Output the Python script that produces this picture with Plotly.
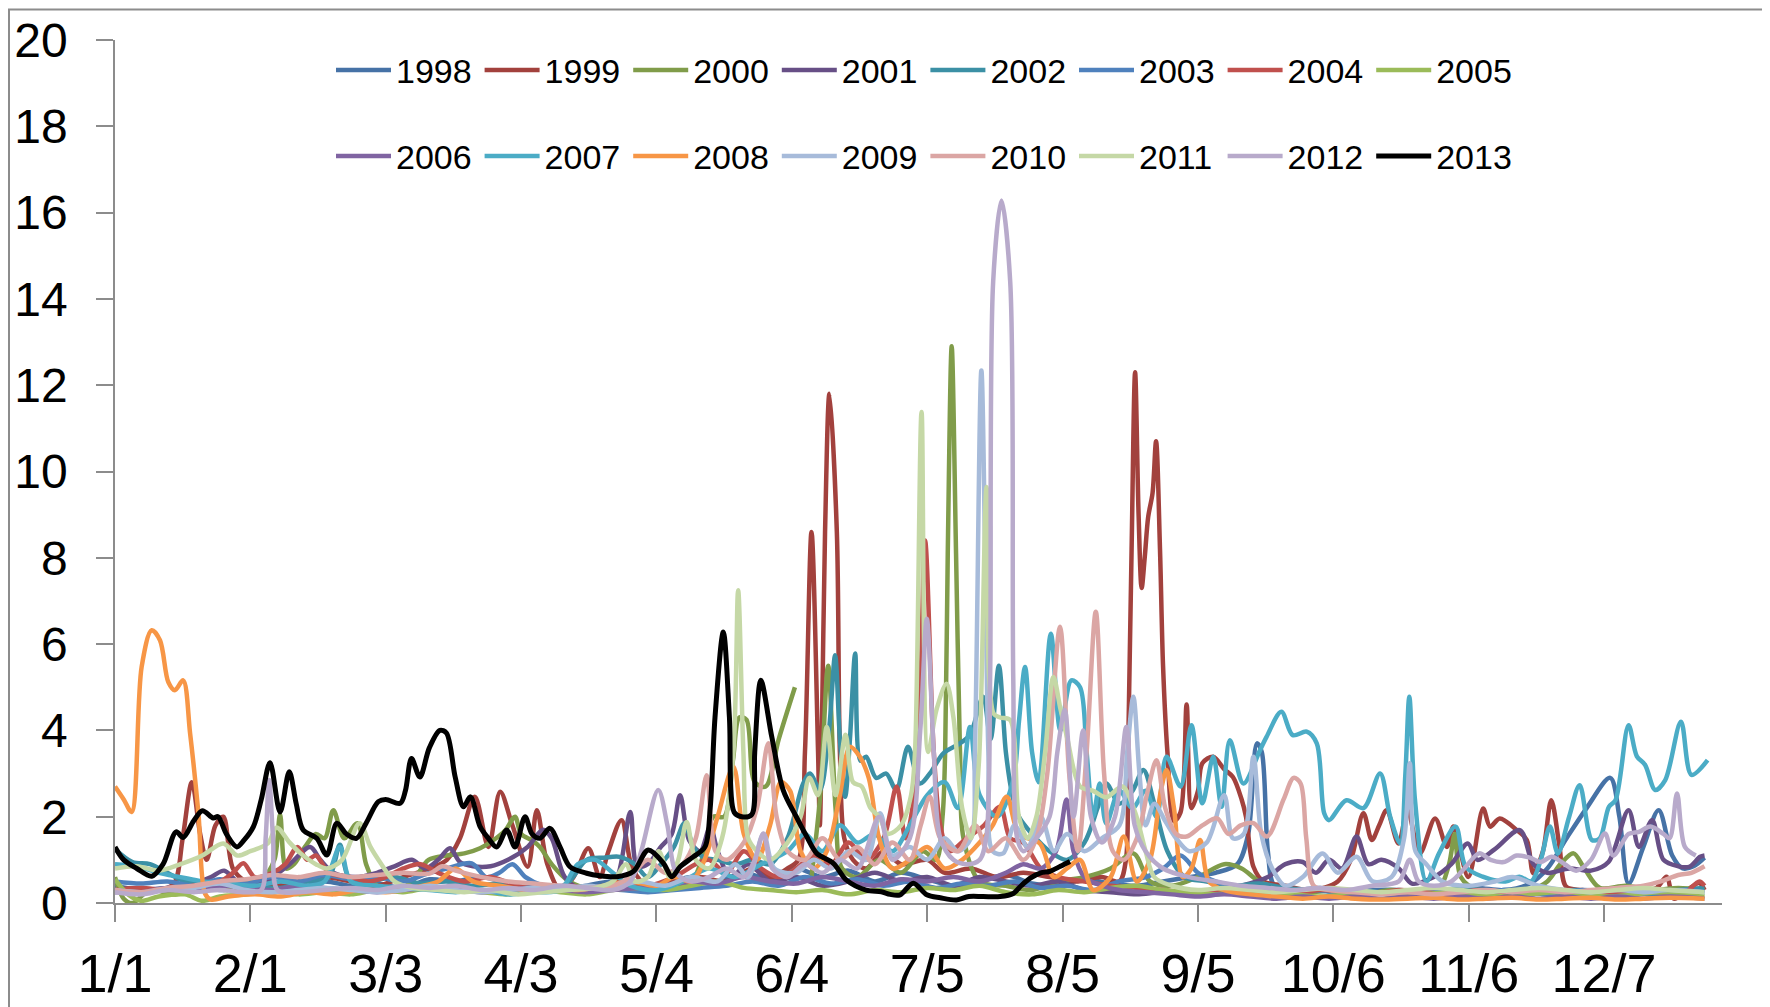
import plotly.graph_objects as go

# ---------------- data: (day index from 1 Jan, value) ----------------
TICK_DAYS = [0, 31, 62, 93, 124, 155, 186, 217, 248, 279, 310, 341]
TICK_LABELS = ["1/1", "2/1", "3/3", "4/3", "5/4", "6/4", "7/5", "8/5", "9/5", "10/6", "11/6", "12/7"]
YEARS = ["1998", "1999", "2000", "2001", "2002", "2003", "2004", "2005",
         "2006", "2007", "2008", "2009", "2010", "2011", "2012", "2013"]

P1998 = [(0,0.4),(6,0.3),(12,0.35),(18,0.45),(24,0.3),(30,0.4),(36,0.5),(42,0.35),(48,0.5),(54,0.4),(60,0.45),(66,0.35),(72,0.55),(78,0.5),(84,0.6),(90,0.45),(96,0.35),(102,0.3),(108,0.4),(114,0.5),(120,0.35),(126,0.45),(132,0.6),(138,0.5),(144,0.7),(150,0.55),(156,0.8),(162,0.6),(168,0.75),(174,0.5),(180,0.7),(186,0.55),(192,0.4),(198,0.5),(204,0.65),(210,0.45),(216,0.4),(222,0.55),(228,0.45),(234,0.4),(240,0.5),(246,0.6),(252,0.7),(257,0.9),(259.5,1.6),(261.5,3.7),(262.6,3.5),(264,1.2),(265.5,0.4),(270,0.3),(276,0.35),(282,0.25),(288,0.3),(294,0.3),(300,0.25),(306,0.3),(312,0.35),(318,0.3),(324,0.45),(328,0.8),(332.4,1.5),(337,2.2),(342.4,2.9),(344.5,2.0),(346.6,0.45),(350,1.3),(353.5,2.15),(356.6,1.1),(359,0.8),(361.5,0.85),(364,1.05)]
P1999 = [(0,0.3),(5,0.35),(10,0.3),(13.5,0.45),(15.5,1.5),(17.6,2.8),(19.5,1.6),(21,1.0),(23,1.8),(24.8,2.0),(27,0.8),(30,0.5),(36,0.4),(42,0.5),(48,0.6),(54,0.5),(60,0.4),(66,0.6),(72,0.8),(76,1.0),(79,1.5),(82.4,2.46),(85.5,1.3),(88.2,2.58),(91,1.8),(94.5,0.84),(96.6,2.15),(99,0.9),(102,0.3),(105,0.6),(108.4,1.27),(111,0.6),(113,1.2),(116,1.92),(118.5,0.8),(122,0.4),(128,0.5),(134,0.6),(140,0.5),(146,0.8),(150,0.6),(154,0.8),(156.5,1.0),(158,3.5),(159.5,8.6),(161,3.5),(161.4,1.8),(161.8,3.5),(162.6,8.6),(163.6,11.8),(165.3,8.6),(166,3.5),(167,1.5),(169,1.0),(172,0.8),(176,1.2),(180,0.9),(186,1.0),(190,0.7),(196,0.8),(202,0.6),(208,0.7),(214,0.6),(220,0.5),(226,0.6),(230,0.5),(231.5,1.0),(232.0,3.5),(232.8,8.2),(233.6,12.3),(234.4,9.0),(235.1,7.3),(235.8,8.0),(236.6,8.95),(237.6,9.5),(238.4,10.7),(239.3,8.2),(240.0,5.5),(241,3.5),(242.5,1.9),(244,2.1),(245.4,4.6),(246.5,2.2),(248,2.6),(249,3.24),(251.5,3.39),(254,3.1),(256,2.92),(258,2.4),(259,2.0),(260.7,0.84),(263,0.5),(268,0.4),(274,0.3),(280,0.5),(283,1.0),(285.9,2.08),(287.8,1.46),(289.5,1.8),(291.2,2.15),(293.9,1.38),(296,2.15),(298.8,1.15),(302.3,1.96),(305,1.3),(306.5,1.77),(309.9,0.6),(313.3,2.19),(314.9,1.77),(317.1,1.96),(321,1.69),(323.3,1.46),(324.8,0.69),(327,1.2),(328.9,2.38),(330.8,1.3),(332.3,0.38),(336,0.3),(342,0.25),(348,0.3),(353,0.35),(355.3,0.61),(357,0.1),(360,0.3),(362.8,0.46),(364,0.3)]
P2000 = [(0,0.6),(2,0.1),(4,0.0),(8,0.3),(14,0.2),(20,0.4),(26,0.3),(30,0.5),(34,0.6),(36.5,1.0),(37.8,2.05),(39.2,0.8),(41,0.9),(43.5,1.3),(46,1.6),(48,1.5),(50,2.15),(52.5,1.5),(55.5,1.85),(57.5,0.9),(60,0.4),(64,0.3),(68,0.5),(71.8,1.0),(76,1.1),(80,1.15),(83.6,1.27),(86.7,1.46),(89.5,1.7),(91.6,2.0),(93,1.6),(95.5,1.45),(97.3,1.3),(100,0.9),(104,0.5),(110,0.3),(116,0.35),(122,0.3),(128,0.4),(132,0.5),(135,1.2),(137,2.0),(139.5,2.0),(141.5,3.3),(143,4.3),(144.6,4.25),(146.5,2.8),(149,2.7),(152,3.8),(155.7,5.0),(156.2,None),(159.5,0.6),(161.5,2.5),(163.3,5.5),(165,2.2),(166.5,0.8),(170,0.6),(175,1.0),(180,0.7),(185,1.2),(188,1.0),(189.5,2.0),(190.1,3.5),(190.7,8.1),(191.6,12.9),(192.6,8.1),(193.5,3.5),(194.3,1.5),(198,0.5),(204,0.4),(210,0.3),(216,0.5),(222,0.6),(228,0.8),(233.2,1.15),(237,0.5),(242,0.4),(248,0.6),(254,0.9),(258,0.8),(262,0.5),(268,0.3),(274,0.25),(280,0.3),(286,0.2),(292,0.3),(298,0.25),(303,0.3),(305.5,0.9),(306.8,1.6),(308.2,0.6),(312,0.3),(318,0.25),(324,0.3),(328,0.5),(331,0.9),(334,1.15),(336.5,0.8),(340,0.35),(346,0.4),(352,0.3),(358,0.35),(364,0.3)]
P2001 = [(0,0.25),(6,0.3),(12,0.35),(18,0.45),(22,0.6),(25,0.75),(28,0.5),(32,0.4),(36,0.6),(40,0.9),(44.7,1.3),(47,1.0),(50,0.7),(55,0.6),(60,0.7),(64,0.85),(68,1.0),(71,0.8),(74,1.0),(76.7,1.27),(79,0.95),(82,0.85),(86,0.85),(90,1.0),(94.5,1.3),(98,1.7),(100,1.5),(103,0.6),(107,0.3),(112,0.3),(115,0.6),(118,2.11),(119.6,0.85),(122,0.9),(125,1.3),(127.5,1.6),(129.4,2.5),(131.5,1.45),(134,1.2),(136.3,1.77),(138,1.2),(141,0.6),(145,0.9),(150,0.5),(156,0.6),(162,0.4),(168,0.5),(174,0.7),(180,0.5),(186,0.6),(192,0.4),(198,0.6),(204,0.5),(210,0.4),(216,0.5),(222,0.3),(228,0.25),(234,0.2),(240,0.25),(246,0.2),(252,0.3),(258,0.4),(264,0.6),(268,0.9),(272,0.95),(275,0.7),(278,1.0),(281,0.8),(284.3,1.54),(287,0.9),(290,1.0),(294,0.8),(297,0.45),(302,0.6),(306,0.9),(309.8,1.38),(312,1.0),(316,1.25),(321.7,1.69),(324.8,0.9),(328,0.7),(333,0.8),(338,0.75),(342,0.95),(346.6,2.15),(349,1.3),(352,1.92),(354.6,1.0),(358,0.85),(360.5,0.84),(363,1.07),(364,1.1)]
P2002 = [(0,1.25),(4,0.95),(8,0.9),(12,0.7),(16,0.5),(20,0.45),(26,0.5),(32,0.4),(38,0.35),(44,0.5),(49,0.6),(51.5,1.35),(53.5,0.6),(58,0.5),(64,0.6),(70,0.45),(76,0.5),(82,0.4),(88,0.45),(94,0.35),(100,0.3),(104,0.5),(108,1.0),(112,1.05),(115.6,1.07),(119,0.9),(122,0.6),(125,0.9),(128,1.3),(130.4,1.85),(132.5,1.3),(135,1.05),(138,1.0),(142,0.9),(146,1.0),(150,0.9),(154,1.5),(157.6,2.77),(159.2,3.0),(161.4,2.62),(163.5,4.0),(164.9,5.74),(166,3.8),(167.2,2.46),(168.3,3.8),(169.5,5.78),(170.7,3.3),(172,3.39),(174.3,2.9),(176.6,3.0),(178.9,2.62),(181.6,3.62),(184.3,2.77),(186.6,3.0),(189.7,3.47),(193.5,3.7),(195.8,3.9),(198.8,4.78),(200.5,3.8),(202.4,5.5),(204,3.5),(205.5,2.5),(207,2.0),(210,1.6),(214,1.2),(218,1.0),(222,1.4),(225,2.2),(227,2.77),(230,2.3),(233,2.6),(235.5,3.08),(238,2.3),(241,1.2),(245,0.6),(250,0.5),(256,0.4),(262,0.45),(268,0.35),(274,0.3),(280,0.25),(286,0.3),(292,0.2),(298,0.25),(304,0.3),(310,0.35),(316,0.25),(322,0.3),(328,0.2),(334,0.3),(340,0.25),(346,0.3),(352,0.2),(358,0.3),(364,0.35)]
P2003 = [(0,0.5),(6,0.45),(12,0.5),(18,0.4),(24,0.55),(30,0.45),(36,0.6),(42,0.5),(48,0.65),(54,0.55),(60,0.6),(66,0.5),(72,0.7),(76,0.8),(81.7,0.92),(85,0.6),(88,0.7),(91,0.9),(94,0.6),(98,0.4),(104,0.3),(110,0.35),(116,0.3),(122,0.25),(128,0.3),(134,0.35),(140,0.4),(146,0.5),(152,0.4),(158,0.6),(164,0.45),(170,0.55),(176,0.4),(182,0.5),(188,0.35),(194,0.45),(200,0.4),(206,0.5),(212,0.35),(218,0.4),(224,0.3),(230,0.5),(236,0.6),(240,0.8),(244,1.1),(248,0.7),(252,0.5),(258,0.35),(264,0.3),(270,0.25),(276,0.3),(282,0.2),(288,0.25),(294,0.2),(300,0.3),(306,0.25),(312,0.2),(318,0.3),(324,0.25),(330,0.2),(336,0.3),(342,0.25),(348,0.2),(354,0.25),(360,0.3),(364,0.25)]
P2004 = [(0,0.3),(6,0.35),(12,0.3),(18,0.4),(24,0.5),(27,0.7),(29.4,0.92),(32,0.6),(36,0.7),(39,0.9),(41.8,1.3),(44,1.0),(46,1.1),(49,0.7),(54,0.6),(58,0.5),(62,0.6),(66,0.8),(70,0.9),(74,0.7),(80,0.5),(86,0.6),(92,0.4),(98,0.3),(104,0.4),(110,0.3),(116,0.5),(122,0.4),(128,0.6),(133,0.9),(136,1.0),(140,0.7),(144,1.2),(148,0.8),(152,0.6),(156,0.8),(160,1.1),(164,0.9),(168,1.4),(172,1.0),(176,1.5),(179,2.7),(181,1.5),(183.6,3.0),(185.5,8.4),(187.5,3.5),(189,1.8),(191,1.2),(195,1.5),(199,1.8),(202.7,2.23),(205,1.5),(208,1.4),(212,0.8),(216,0.6),(222,0.5),(228,0.4),(234,0.35),(240,0.3),(246,0.25),(252,0.3),(258,0.2),(264,0.25),(270,0.2),(276,0.3),(282,0.25),(288,0.2),(294,0.3),(300,0.25),(306,0.2),(312,0.3),(318,0.25),(324,0.2),(330,0.3),(336,0.25),(342,0.2),(348,0.3),(354,0.25),(359,0.2),(362.8,0.5),(364,0.4)]
P2005 = [(0,0.55),(3,0.2),(6,0.05),(10,0.15),(16,0.2),(20,0.05),(24,0.15),(30,0.2),(36,0.3),(42,0.2),(48,0.25),(54,0.2),(60,0.3),(66,0.25),(72,0.35),(78,0.3),(84,0.25),(90,0.2),(96,0.3),(102,0.25),(108,0.2),(114,0.3),(120,0.35),(126,0.3),(132,0.4),(138,0.5),(144,0.35),(150,0.3),(156,0.25),(162,0.3),(168,0.2),(174,0.3),(180,0.25),(186,0.35),(192,0.3),(198,0.4),(204,0.25),(210,0.2),(216,0.3),(222,0.25),(228,0.35),(234,0.4),(240,0.3),(246,0.25),(252,0.2),(258,0.3),(264,0.25),(270,0.2),(276,0.15),(282,0.2),(288,0.25),(294,0.15),(300,0.2),(306,0.25),(312,0.2),(318,0.15),(324,0.2),(330,0.25),(336,0.2),(342,0.15),(348,0.2),(354,0.25),(360,0.2),(364,0.15)]
P2006 = [(0,0.3),(6,0.25),(12,0.35),(18,0.3),(24,0.4),(30,0.35),(36,0.3),(42,0.4),(48,0.35),(54,0.3),(60,0.25),(66,0.3),(72,0.35),(78,0.3),(84,0.25),(90,0.3),(96,0.35),(102,0.3),(108,0.25),(114,0.3),(120,0.35),(126,0.4),(132,0.5),(138,0.45),(144,0.6),(150,0.5),(156,0.45),(162,0.6),(168,0.5),(174,0.4),(180,0.55),(186,0.5),(192,0.6),(198,0.5),(204,0.7),(208,0.9),(212,0.8),(215.5,1.2),(217.9,2.4),(219.5,1.2),(222,0.6),(226,0.4),(230,0.3),(236,0.25),(242,0.2),(248,0.15),(254,0.2),(260,0.15),(266,0.1),(272,0.15),(278,0.1),(284,0.15),(290,0.1),(296,0.15),(302,0.1),(308,0.15),(314,0.1),(320,0.15),(326,0.1),(332,0.15),(338,0.1),(344,0.15),(350,0.1),(356,0.15),(364,0.1)]
P2007 = [(0,0.9),(5,0.85),(10,0.7),(15,0.6),(20,0.5),(26,0.45),(32,0.4),(38,0.5),(44,0.4),(48,0.5),(51.5,1.3),(54,0.5),(60,0.4),(66,0.35),(72,0.3),(78,0.25),(84,0.3),(90,0.2),(96,0.25),(102,0.3),(106,0.9),(110,1.0),(114,0.7),(118,0.4),(124,0.3),(130,0.5),(136,0.8),(142,0.6),(148,0.9),(154,1.2),(158,1.6),(162,1.2),(166,1.8),(170,1.4),(174,1.6),(178,1.2),(182,1.8),(186,2.5),(190,2.8),(193,2.2),(195.8,4.08),(198,2.5),(202,2.0),(205.7,2.85),(207,4.2),(208.4,5.47),(210,3.5),(211.5,2.8),(214.3,6.24),(216.5,4.0),(219,5.16),(221,5.0),(222.5,3.5),(224,2.0),(225.5,2.77),(227,1.84),(230,2.6),(233,2.2),(236,2.6),(238.5,2.0),(240.8,3.39),(244,2.7),(246.5,4.12),(249,2.31),(251.5,3.39),(253.4,2.23),(255.3,3.77),(258.4,2.77),(262.2,3.54),(263.7,3.85),(267.1,4.43),(269.7,3.89),(272.9,3.97),(275.2,3.7),(276.9,2.08),(278,1.92),(282,2.38),(285.9,2.2),(289.7,3.0),(292,2.0),(294.3,1.38),(295.5,3.0),(296.4,4.78),(297.7,2.38),(300.3,0.5),(303.2,1.15),(307,1.77),(309.3,0.84),(313.2,0.61),(318.4,0.5),(321.6,0.61),(324.3,0.5),(326.5,1.0),(328.6,1.77),(330.4,1.15),(333,2.0),(335.4,2.73),(338.2,1.46),(340,1.5),(342.1,2.23),(343.6,2.38),(346.6,4.12),(348.5,3.4),(350.4,3.2),(352.7,2.62),(355,2.85),(358.6,4.2),(361,2.97),(364.7,3.31)]
P2008 = [(0,2.7),(2,2.4),(3.8,2.11),(6.1,5.47),(8.4,6.32),(10.3,6.09),(12.2,5.12),(13.7,4.93),(15.6,5.16),(17.2,3.93),(19.1,2.08),(20.6,0.22),(22,0.08),(26,0.15),(32,0.2),(38,0.15),(44,0.25),(50,0.2),(56,0.3),(62,0.25),(68,0.35),(74,0.5),(78,0.8),(82,0.5),(88,0.4),(94,0.3),(100,0.35),(106,0.3),(112,0.4),(118,0.5),(124,0.4),(128,0.6),(132,0.5),(135,1.0),(138,2.0),(141.6,3.16),(144,1.6),(147,1.0),(150,1.8),(152.5,2.8),(154.6,2.6),(157,1.2),(160,0.8),(163,1.2),(166,2.5),(168.3,3.62),(170.5,3.4),(172.6,2.9),(175,1.5),(178,0.8),(182,1.0),(186,1.3),(190,0.8),(194,1.0),(198,1.4),(201,1.8),(204.2,2.46),(207,1.6),(211.8,1.38),(215,0.6),(218,0.8),(221,1.0),(224,0.3),(228,0.6),(231,1.54),(234,0.5),(237,1.0),(239.5,2.6),(240.8,3.08),(242.5,2.2),(244.5,0.6),(246.5,0.8),(248.5,1.46),(250.5,0.5),(254,0.3),(260,0.2),(266,0.15),(272,0.1),(278,0.15),(284,0.1),(290,0.08),(296,0.1),(302,0.12),(308,0.08),(314,0.1),(320,0.12),(326,0.08),(332,0.1),(338,0.12),(344,0.08),(350,0.1),(356,0.12),(364,0.1)]
P2009 = [(0,0.3),(6,0.25),(12,0.3),(18,0.35),(24,0.45),(30,0.3),(36,0.25),(42,0.3),(48,0.35),(54,0.3),(60,0.25),(66,0.3),(72,0.4),(78,0.3),(84,0.25),(90,0.3),(96,0.35),(102,0.3),(108,0.4),(114,0.35),(120,0.5),(126,0.4),(132,0.6),(138,0.5),(142,0.9),(145,0.6),(148.5,1.6),(151,0.8),(156,0.7),(160,1.0),(164,0.8),(168,1.2),(172,1.0),(175.2,2.08),(178,1.1),(182,1.3),(186,1.0),(190,1.5),(193,1.2),(196,1.5),(196.9,3.5),(198.4,12.34),(200,3.5),(201,1.2),(203.4,1.15),(206,1.8),(209,1.3),(212,2.0),(215,1.2),(218,1.6),(222,1.2),(226,1.5),(230,1.8),(231.8,3.5),(233.2,4.78),(234.6,3.0),(236,1.8),(238,2.3),(240.5,1.9),(243,1.5),(246,1.2),(250,1.4),(254,2.5),(256,1.5),(258.5,1.6),(260.7,3.39),(262.5,1.6),(265,0.8),(268,0.4),(272,0.6),(276.5,1.15),(280,0.7),(284.3,1.07),(288,0.5),(292.3,0.6),(295.2,1.5),(296.5,3.24),(297.8,1.2),(300.3,0.9),(304,0.5),(310,0.4),(316,0.5),(320,0.6),(326,0.4),(332,0.3),(338,0.25),(344,0.3),(350,0.25),(356,0.3),(364,0.25)]
P2010 = [(0,0.3),(6,0.25),(12,0.35),(18,0.4),(24,0.5),(30,0.55),(36,0.65),(42,0.6),(48,0.7),(54,0.6),(60,0.65),(66,0.7),(72,0.68),(75,0.85),(78,0.75),(84,0.6),(90,0.5),(96,0.45),(102,0.4),(108,0.35),(114,0.4),(118,0.6),(122,1.0),(126,0.7),(130,0.9),(133,1.5),(135.5,2.96),(137.5,1.2),(140,1.0),(144,1.4),(147,2.2),(149.6,3.7),(151.5,2.0),(154,1.2),(158,1.0),(162,1.5),(166,1.0),(170,1.3),(174,0.9),(178,1.4),(182,1.0),(184.5,1.8),(186.6,2.46),(189,1.5),(193,1.2),(197,1.8),(200,1.2),(204,1.5),(208,1.0),(211,1.5),(213.5,3.0),(216.4,6.4),(218.5,3.0),(220.5,1.2),(222.5,3.5),(224.6,6.75),(226.5,3.0),(228.5,1.2),(231,1.0),(234,1.5),(236.5,2.6),(238.5,3.31),(240.5,2.2),(243,1.6),(245.4,1.54),(249,1.8),(252.4,1.96),(255,1.6),(257.8,1.8),(260.7,1.85),(263.8,1.54),(267.6,2.4),(269.9,2.9),(271.5,2.77),(272.8,1.5),(274.5,0.4),(278,0.3),(284,0.25),(290,0.2),(296,0.25),(302,0.2),(308,0.25),(314,0.3),(320,0.25),(326,0.3),(332,0.25),(338,0.3),(344,0.35),(350,0.4),(354,0.5),(358,0.65),(361,0.7),(364,0.85)]
P2011 = [(0,0.8),(5,0.85),(10,0.75),(15,0.9),(20,1.1),(24.8,1.38),(28,1.1),(31,1.2),(35,1.38),(37,1.75),(40,1.4),(42.5,1.15),(46,0.9),(48.5,0.8),(52,1.0),(56,1.85),(58.5,1.3),(61,0.9),(64,0.5),(68,0.35),(74,0.3),(80,0.25),(86,0.3),(92,0.2),(98,0.25),(104,0.3),(110,0.35),(114,0.5),(117,0.9),(119,0.5),(122,0.6),(124.5,1.2),(127,0.6),(129,1.0),(130.9,1.88),(133,1.0),(136,0.8),(139,1.5),(141.6,3.5),(142.7,7.25),(143.9,3.5),(145,1.5),(147,1.2),(150,1.0),(154,1.4),(157,2.0),(159,2.9),(161,2.5),(163,4.08),(165,2.5),(167.3,3.9),(169,2.8),(171,2.7),(173,2.2),(175,2.0),(177,1.6),(180,1.8),(182.3,2.5),(183.2,3.5),(184.7,11.38),(186.2,3.5),(188.1,4.47),(190.4,5.08),(192,4.3),(194,2.2),(196,1.5),(197.8,3.2),(199.6,9.64),(201.2,4.39),(202.7,4.3),(205,4.24),(207,2.0),(209,1.5),(211,2.0),(213,3.5),(214.9,5.24),(216.5,4.5),(218,3.85),(221,2.7),(224,2.6),(227,2.45),(230.7,2.7),(233.6,2.1),(236,1.2),(238,0.6),(242,0.4),(248,0.3),(254,0.35),(260,0.3),(266,0.25),(272,0.3),(278,0.35),(284,0.3),(290,0.25),(296,0.3),(302,0.35),(308,0.3),(314,0.25),(320,0.3),(326,0.35),(332,0.3),(338,0.25),(344,0.3),(350,0.35),(356,0.3),(364,0.25)]
P2012 = [(0,0.25),(6,0.2),(12,0.3),(18,0.25),(24,0.3),(30,0.25),(33.5,0.3),(34.5,1.5),(35.3,2.85),(36.2,1.5),(37.2,0.3),(42,0.25),(48,0.3),(54,0.35),(60,0.3),(66,0.4),(72,0.35),(78,0.4),(84,0.3),(90,0.35),(96,0.3),(102,0.4),(108,0.35),(114,0.3),(118,0.5),(120.5,1.2),(124.4,2.62),(126.5,1.8),(128.5,0.7),(132,0.5),(136,0.6),(140,0.8),(144,0.6),(146.5,1.0),(148.5,1.61),(150.5,0.8),(154,0.6),(158,0.9),(162,0.7),(166,1.0),(170,0.8),(175,2.0),(178,1.0),(182,1.5),(184.4,4.0),(185.9,6.59),(187.5,3.5),(189,1.5),(192,1.0),(195,0.9),(198,1.0),(199.5,1.5),(200.4,5.2),(201.1,14.4),(203,16.28),(205,14.4),(205.7,5.2),(206.6,1.5),(208,1.2),(211,1.5),(214,2.0),(215.8,3.5),(217.5,4.47),(219.5,2.0),(221.7,4.0),(223.5,2.0),(226,1.4),(229,2.0),(231.6,4.08),(233.5,1.8),(236,1.2),(240,0.8),(246,0.6),(252,0.5),(258,0.4),(264,0.35),(270,0.3),(276,0.35),(282,0.3),(288,0.4),(294,0.5),(296.5,1.0),(298.5,0.5),(302,0.4),(306,0.5),(309,0.8),(312.4,1.15),(315,1.0),(318,0.95),(321,1.1),(324,1.05),(326.5,0.95),(329,1.07),(332,0.9),(334.6,0.75),(338,1.0),(341.2,1.61),(343.1,1.1),(346.6,1.6),(349,1.65),(351.6,1.77),(354.6,1.6),(356,1.5),(357.7,2.54),(359.5,1.3),(362,1.1)]
P2013 = [(0,1.3),(2,1.0),(5,0.8),(8.4,0.62),(11,0.9),(14,1.65),(15.6,1.52),(18,1.9),(20,2.14),(22.5,1.97),(23.6,2.0),(25.5,1.6),(27.9,1.3),(29.5,1.45),(31.7,1.77),(33.5,2.4),(35.5,3.25),(37.8,2.11),(39.9,3.04),(41.5,2.3),(43.1,1.69),(46.2,1.5),(48.5,1.11),(50.8,1.85),(53,1.6),(55.3,1.5),(57.5,1.85),(60.3,2.35),(62,2.4),(65.3,2.31),(66.5,2.6),(67.9,3.35),(69.8,2.92),(72,3.6),(74.4,4.0),(75.9,3.94),(77.9,2.92),(79.8,2.23),(81.4,2.46),(83.6,1.77),(85.5,1.5),(87.4,1.3),(89.7,1.69),(91.6,1.3),(93.9,2.0),(95.5,1.6),(97.3,1.5),(99.6,1.73),(101.9,1.3),(104.2,0.84),(108,0.69),(111,0.63),(114.9,0.61),(118.7,0.73),(122.1,1.23),(125.6,0.92),(127.5,0.61),(129.4,0.84),(132.4,1.07),(135.1,1.3),(136.3,2.2),(137.4,4.3),(139.3,6.28),(140.7,4.3),(141.8,2.1),(143.5,2.0),(145.8,2.05),(146.5,3.5),(147.9,5.16),(150.4,3.85),(153,2.62),(156,2.0),(158.4,1.54),(160.7,1.15),(164.5,0.92),(167.5,0.53),(172,0.3),(175.5,0.26),(177.5,0.2),(179.8,0.19),(182.8,0.46),(185.9,0.19),(189,0.12),(192.7,0.07),(195.5,0.15),(198.8,0.15),(202.7,0.15),(205.7,0.22),(207.5,0.4),(209.5,0.57),(212,0.7),(214,0.73),(216.5,0.85),(218.7,0.96)]

SERIES_POINTS = [P1998, P1999, P2000, P2001, P2002, P2003, P2004, P2005,
                 P2006, P2007, P2008, P2009, P2010, P2011, P2012, P2013]

# ---------------- styles ----------------
COLORS = ["#4672A6", "#A2413D", "#809C4A", "#674F86", "#3B90A5", "#4F81BD", "#C0504D", "#9BBB59",
          "#8064A2", "#4BACC6", "#F79646", "#A7BBDA", "#DBA6A4", "#C5D8A6", "#B8AACB", "#000000"]
FONT = "Liberation Sans"
OFF = 8                      # page body margin of the html page
PAGE_W, PAGE_H = 1770, 1007
W, H = PAGE_W - OFF, PAGE_H - OFF
# plot area in page pixels: x 115..1722, y 39.5..903
ML, MR, MT, MB = 115 - OFF, PAGE_W - 1722, 39.5 - OFF, PAGE_H - 903

fig = go.Figure()
for i, (year, pts, col) in enumerate(zip(YEARS, SERIES_POINTS, COLORS)):
    xs = [p[0] for p in pts]
    ys = [p[1] for p in pts]
    fig.add_trace(go.Scatter(
        x=xs, y=ys, mode="lines", name=year,
        line=dict(color=col, width=5.0 if year == "2013" else 4.5, shape="spline", smoothing=0.9),
        connectgaps=False,
        legend="legend" if i < 8 else "legend2",
        hoverinfo="skip",
    ))

plot_w = W - ML - MR
plot_h = H - MT - MB

def px_to_paper_x(px):
    return (px - OFF - ML) / plot_w

def px_to_paper_y(py):
    return (H - MB - (py - OFF)) / plot_h

legend_common = dict(
    orientation="h", xanchor="left", yanchor="middle",
    font=dict(family=FONT, size=34, color="#000000"),
    itemwidth=55,
    entrywidth=78.6, entrywidthmode="pixels",
    bgcolor="rgba(0,0,0,0)", borderwidth=0, tracegroupgap=0,
    itemclick=False, itemdoubleclick=False,
)

fig.update_layout(
    width=W, height=H,
    margin=dict(l=ML, r=MR, t=MT, b=MB, autoexpand=False),
    paper_bgcolor="white", plot_bgcolor="white",
    font=dict(family=FONT, color="#000000"),
    showlegend=True,
    legend=dict(**legend_common, x=px_to_paper_x(331), y=px_to_paper_y(70)),
    legend2=dict(**legend_common, x=px_to_paper_x(331), y=px_to_paper_y(156)),
    xaxis=dict(
        range=[0, 368], tickmode="array", tickvals=TICK_DAYS, ticktext=TICK_LABELS,
        showgrid=False, zeroline=False, showline=True, linecolor="#8C8C8C", linewidth=1.5,
        ticks="outside", ticklen=17, tickwidth=1.5, tickcolor="#8C8C8C",
        tickfont=dict(family=FONT, size=54, color="#000000"), ticklabelstandoff=5,
        automargin=False, fixedrange=True,
    ),
    yaxis=dict(
        range=[0, 20], tickmode="linear", tick0=0, dtick=2,
        showgrid=False, zeroline=False, showline=True, linecolor="#8C8C8C", linewidth=1.5,
        ticks="outside", ticklen=17, tickwidth=1.5, tickcolor="#8C8C8C",
        tickfont=dict(family=FONT, size=48, color="#000000"), ticklabelstandoff=19,
        automargin=False, fixedrange=True,
    ),
    shapes=[dict(
        type="rect", xref="paper", yref="paper", layer="above",
        x0=px_to_paper_x(9), x1=px_to_paper_x(1767),
        y0=px_to_paper_y(1030), y1=px_to_paper_y(9),
        line=dict(color="#8C8C8C", width=2), fillcolor="rgba(0,0,0,0)",
    )],
)

fig.write_html("out.html", config={"displayModeBar": False})
